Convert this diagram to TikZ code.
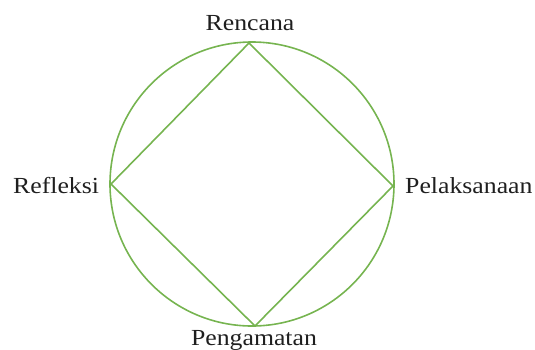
\documentclass[tikz,border=0pt]{standalone}
\usepackage{fontspec}
\setmainfont[FakeStretch=1.12]{Liberation Serif}
\definecolor{lgreen}{RGB}{118,180,80}
\begin{document}
\begin{tikzpicture}[x=1pt,y=-1pt,
  lbl/.style={inner sep=0pt,font=\fontsize{23}{25}\selectfont,text=black!88},
  shape line/.style={draw=lgreen,line width=1.6pt}]
\useasboundingbox (0,0) rectangle (535,349);
\coordinate (c) at (252,184);
\coordinate (t) at (249,43);
\coordinate (r) at (393,186);
\coordinate (b) at (255,326);
\coordinate (l) at (111,184);
\draw[shape line] (c) circle (142);
\draw[shape line,line join=round] (t) -- (r) -- (b) -- (l) -- cycle;
\node[lbl,anchor=base] (rencana) at (250,30) {Rencana};
\node[lbl,anchor=base west] (refleksi) at (13,193) {Refleksi};
\node[lbl,anchor=base west] (pelaks) at (405,193) {Pelaksanaan};
\node[lbl,anchor=base] (peng) at (254,345) {Pengamatan};
\end{tikzpicture}
\end{document}
